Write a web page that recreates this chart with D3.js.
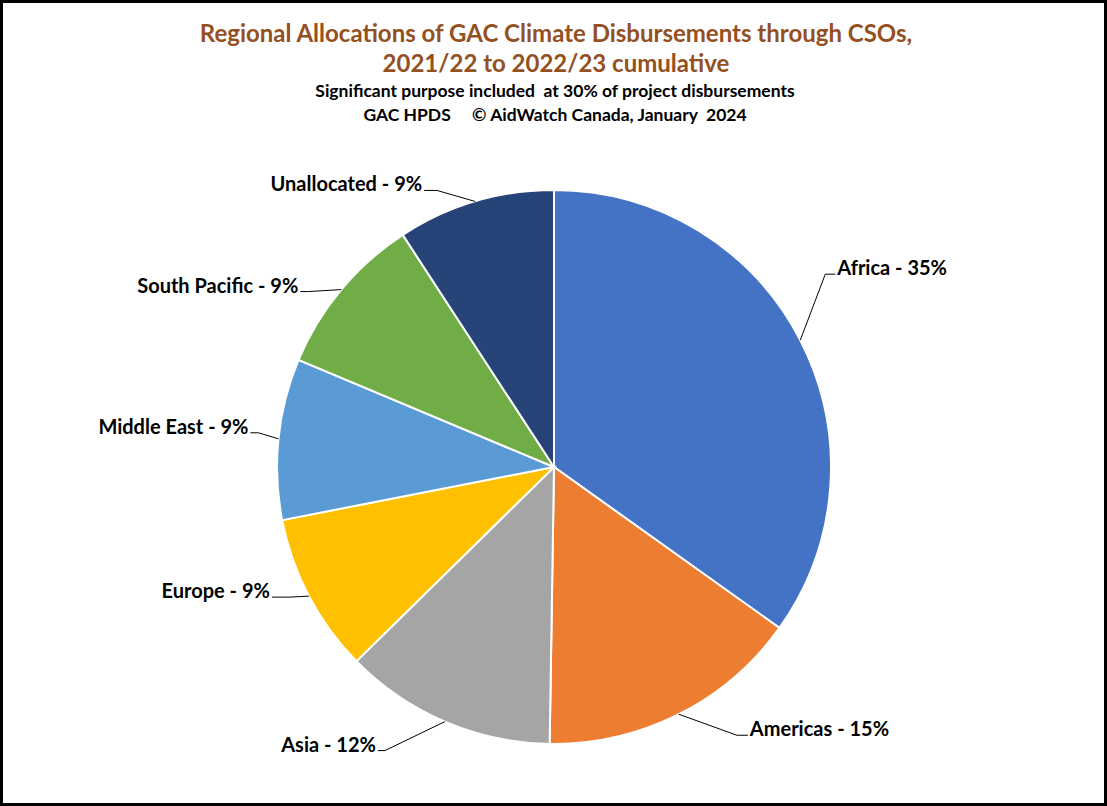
<!DOCTYPE html>
<html><head><meta charset="utf-8">
<script src="https://cdn.jsdelivr.net/npm/d3@7"></script>
<style>
html,body{margin:0;padding:0;background:#fff;}
svg{display:block;}
text{font-family:Lato,"Open Sans",sans-serif;font-weight:bold;}
</style></head>
<body>
<script>
const categories = ["Africa","Americas","Asia","Europe","Middle East","South Pacific","Unallocated"];
const values = [34.9, 15.4, 12.4, 9.3, 9.4, 9.5, 9.2];
const pctLabels = ["35%","15%","12%","9%","9%","9%","9%"];
const colors = ["#4472C4","#ED7D31","#A5A5A5","#FFC000","#5B9BD5","#70AD47","#264478"];
const titleLines = ["Regional Allocations of GAC Climate Disbursements through CSOs,","2021/22 to 2022/23 cumulative"];
const subLines = ["Significant purpose included  at 30% of project disbursements","GAC HPDS     \u00A9 AidWatch Canada, January  2024"];
// label layout: elbow offset from arc point (dx,dy), horizontal tail length, side
const labelLayout = [
  {dx:25, dy:-66, tail:10, side:1},
  {dx:58, dy:21, tail:11, side:1},
  {dx:-60, dy:29, tail:7, side:-1},
  {dx:-19, dy:1, tail:18, side:-1},
  {dx:-20, dy:-6, tail:8, side:-1},
  {dx:-33, dy:2, tail:8, side:-1},
  {dx:-38, dy:-11, tail:13, side:-1}
];

const W=1107,H=806;
const svg=d3.select("body").append("svg").attr("width",W).attr("height",H);
svg.append("rect").attr("x",1.5).attr("y",1.5).attr("width",W-3).attr("height",H-3)
  .attr("fill","#fff").attr("stroke","#000").attr("stroke-width",3);

svg.selectAll("text.title").data(titleLines).enter().append("text")
  .attr("x",556).attr("y",(d,i)=>42+i*30).attr("text-anchor","middle")
  .attr("font-size",24).attr("fill","#94501F").text(d=>d);
svg.selectAll("text.sub").data(subLines).enter().append("text")
  .attr("x",555).attr("y",(d,i)=>97+i*24).attr("text-anchor","middle")
  .attr("font-size",17.5).attr("fill","#000").attr("xml:space","preserve").text(d=>d);

const cx=554, cy=467, R=277;
const pie=d3.pie().sort(null).value(d=>d)(values);
const arc=d3.arc().innerRadius(0).outerRadius(R);
const g=svg.append("g").attr("transform",`translate(${cx},${cy})`);
g.selectAll("path").data(pie).enter().append("path")
  .attr("d",arc).attr("fill",(d,i)=>colors[i]).attr("stroke","#fff").attr("stroke-width",2);

pie.forEach((d,i)=>{
  const a=(d.startAngle+d.endAngle)/2;
  const px=R*Math.sin(a), py=-R*Math.cos(a);
  const L=labelLayout[i];
  const ex=px+L.dx, ey=py+L.dy;
  const tx=ex+L.side*L.tail;
  g.append("polyline").attr("points",`${px},${py} ${ex},${ey} ${tx},${ey}`)
    .attr("fill","none").attr("stroke","#000").attr("stroke-width",1);
  g.append("text").attr("x",tx+L.side*2).attr("y",ey+1)
    .attr("text-anchor",L.side>0?"start":"end").attr("font-size",20).attr("fill","#000")
    .text(categories[i]+" - "+pctLabels[i]);
});
</script>
</body></html>
